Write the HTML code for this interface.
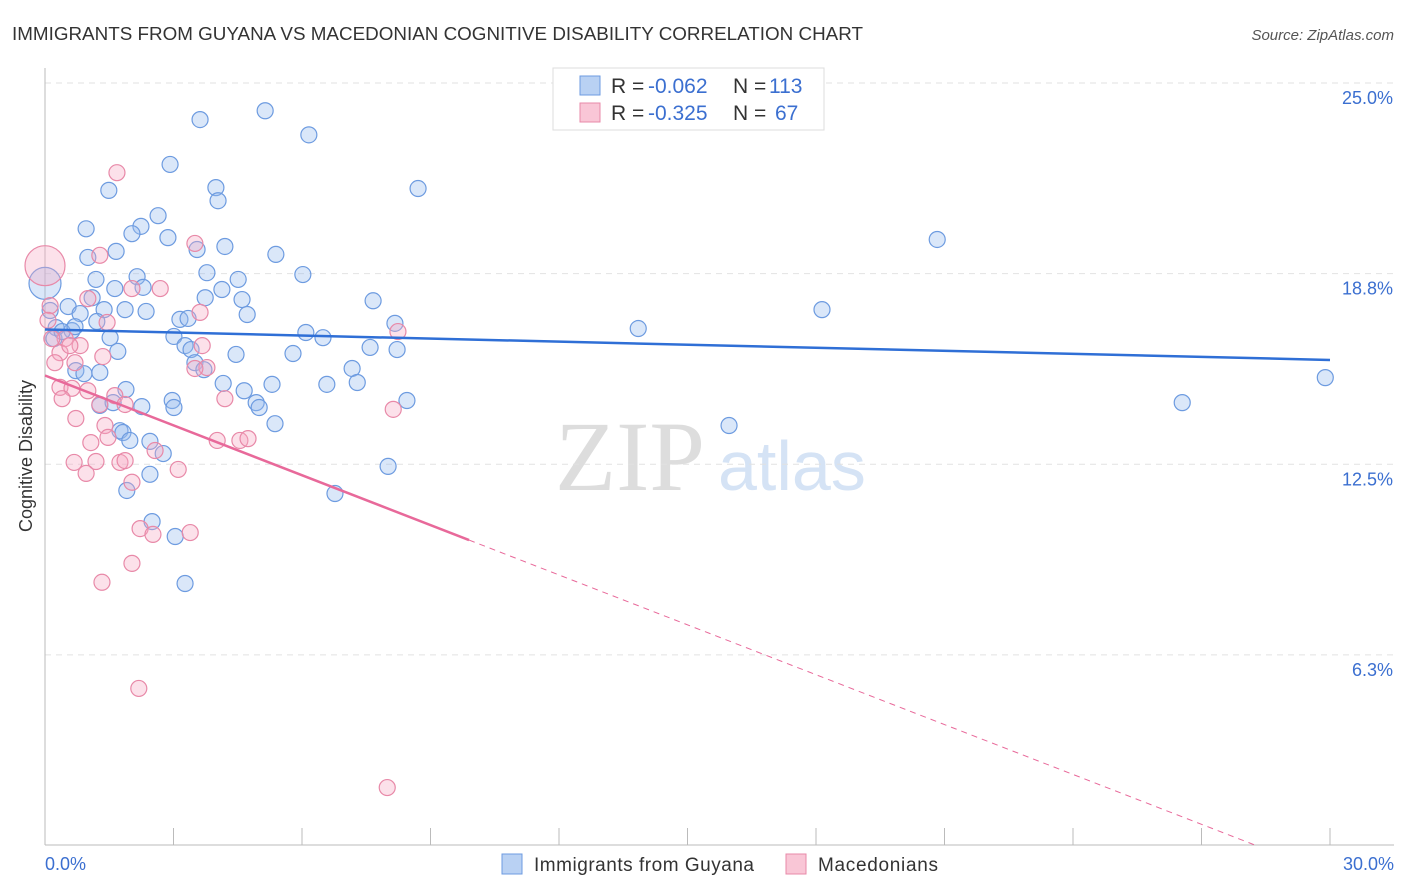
<!DOCTYPE html>
<html><head><meta charset="utf-8"><style>
body{margin:0;background:#fff;font-family:"Liberation Sans",sans-serif;}
svg{display:block}
</style></head><body>
<svg id="chart" width="1406" height="892">
<text x="12" y="40" font-size="18" fill="#333" textLength="851" lengthAdjust="spacingAndGlyphs">IMMIGRANTS FROM GUYANA VS MACEDONIAN COGNITIVE DISABILITY CORRELATION CHART</text>
<text x="1394" y="40" font-size="15" fill="#555" font-style="italic" text-anchor="end">Source: ZipAtlas.com</text>
<text x="32" y="456" font-size="18" fill="#333" text-anchor="middle" transform="rotate(-90 32 456)">Cognitive Disability</text>
<g><text x="555" y="490" font-size="100" fill="#ddd" font-family="Liberation Serif,serif">ZIP</text><text x="718" y="490" font-size="70" fill="#d5e3f5">atlas</text></g>
<g id="grid"></g><g id="axes"></g><g id="pts"></g><g id="trends"></g>
<g>
<rect x="553" y="68" width="271" height="62" fill="#fff" stroke="#ddd"/>
<rect x="580" y="76" width="20" height="19" fill="#b9d1f3" stroke="#6d9be0"/>
<rect x="580" y="103" width="20" height="19" fill="#f9c6d6" stroke="#e889a8"/>
<text x="611" y="93" font-size="21" fill="#333">R = <tspan x="648" fill="#3b6fd0">-0.062</tspan><tspan x="733">N = </tspan><tspan x="769" fill="#3b6fd0">113</tspan></text>
<text x="611" y="120" font-size="21" fill="#333">R = <tspan x="648" fill="#3b6fd0">-0.325</tspan><tspan x="733">N = </tspan><tspan x="775" fill="#3b6fd0">67</tspan></text>
</g>
<g>
<rect x="502" y="854" width="20" height="20" fill="#b9d1f3" stroke="#6d9be0"/>
<text x="534" y="871" font-size="19" fill="#333" textLength="220">Immigrants from Guyana</text>
<rect x="786" y="854" width="20" height="20" fill="#f9c6d6" stroke="#e889a8"/>
<text x="818" y="871" font-size="19" fill="#333" textLength="120">Macedonians</text>
</g>
</svg>
<script>
const yTicks=[6.25,12.5,18.75,25];
const yTickLabels=["6.3%","12.5%","18.8%","25.0%"];
const xTickLabels=["0.0%","30.0%"];
const blueX=[5.14,3.62,6.16,2.92,1.49,3.99,4.04,8.71,2.64,2.24,0.96,2.03,2.87,4.2,3.55,1.66,5.39,1.0,20.83,3.78,6.02,1.19,2.15,4.51,0,1.63,2.29,4.13,1.1,3.74,4.6,7.66,0.54,1.38,1.87,2.36,18.14,4.72,0.82,1.21,3.15,3.34,8.17,0.26,0.63,13.85,6.09,6.49,3.01,0.21,1.52,3.27,3.41,1.7,4.46,5.79,7.59,8.22,3.5,3.71,7.17,0.72,1.28,0.91,29.89,4.16,5.3,6.58,7.29,1.89,4.65,2.97,4.93,8.45,1.28,1.59,2.26,3.01,5.0,26.55,5.37,15.97,1.75,1.82,1.98,2.45,2.76,8.01,2.45,1.91,6.77,2.5,3.04,3.27,0.4,0.7,0.12];
const blueY=[24.09,23.8,23.3,22.33,21.48,21.57,21.14,21.54,20.65,20.3,20.22,20.06,19.93,19.64,19.54,19.48,19.38,19.28,19.87,18.78,18.72,18.56,18.65,18.56,18.43,18.26,18.3,18.23,17.96,17.96,17.9,17.86,17.67,17.57,17.57,17.51,17.57,17.41,17.44,17.18,17.25,17.28,17.12,16.98,16.88,16.95,16.82,16.65,16.69,16.62,16.65,16.39,16.26,16.2,16.1,16.13,16.33,16.26,15.83,15.6,15.64,15.57,15.51,15.47,15.34,15.15,15.12,15.12,15.18,14.95,14.91,14.59,14.52,14.59,14.43,14.52,14.39,14.36,14.36,14.52,13.83,13.77,13.6,13.54,13.28,13.25,12.85,12.43,12.17,11.64,11.54,10.62,10.13,8.59,16.85,17.01,17.54];
const pinkX=[0,1.68,3.5,1.28,2.69,2.03,1.0,3.62,0.12,1.45,8.24,0.47,3.67,0.82,0.35,1.35,0.23,0.7,3.78,3.5,0.35,0.63,1.0,1.63,0.4,1.28,1.87,4.2,8.13,0.72,1.4,1.07,1.47,4.02,4.55,4.74,2.57,0.68,1.19,1.75,1.87,0.96,3.11,2.03,2.22,2.52,3.39,2.03,1.33,2.19,7.99,0.07,0.16,0.58];
const pinkY=[19.01,22.06,19.74,19.35,18.26,18.26,17.93,17.48,17.7,17.15,16.85,16.62,16.39,16.39,16.16,16.03,15.83,15.83,15.67,15.64,15.02,14.99,14.91,14.75,14.65,14.46,14.46,14.65,14.3,14.0,13.77,13.21,13.38,13.28,13.28,13.34,12.95,12.56,12.59,12.56,12.62,12.2,12.33,11.91,10.39,10.2,10.26,9.25,8.63,5.15,1.9,17.22,16.62,16.39];
const blueTrend=[16.92,15.92];
const pinkTrend=[15.41,-0.545];
const NS="http://www.w3.org/2000/svg";
const sx=v=>45+v/30*1285, sy=v=>845.5-v*30.5;
function mk(p,t,a){const e=document.createElementNS(NS,t);for(const k in a)e.setAttribute(k,a[k]);document.getElementById(p).appendChild(e);return e;}
yTicks.forEach((t,i)=>{
 const l=mk('grid','line',{x1:45,x2:1394,y1:sy(t),y2:sy(t),stroke:'#e2e2e2','stroke-dasharray':'6,5'});
 
 
 const tx=mk('grid','text',{x:1393,y:sy(t)+21,'font-size':18,fill:'#3b6fd0','text-anchor':'end'});
 tx.textContent=yTickLabels[i];
 
 
});
const ax=mk('axes','line',{x1:45,x2:45,y1:68,y2:845,stroke:'#bbb'});


const bx=mk('axes','line',{x1:45,x2:1394,y1:845,y2:845,stroke:'#bbb'});


for(let i=0;i<=10;i++){const t=mk('axes','line',{x1:sx(i*3),x2:sx(i*3),y1:828,y2:845,stroke:'#bbb'});
 
 }
[[0,'start',45],[30,'end',1394]].forEach((d,i)=>{const t=mk('axes','text',{x:d[2],y:870,'font-size':18,fill:'#3b6fd0','text-anchor':d[1]});t.textContent=xTickLabels[i];
 
 });
blueX.forEach((x,i)=>{const c=mk('pts','circle',{cx:sx(x),cy:sy(blueY[i]),r:x===0?16:8,fill:'rgba(150,185,238,0.35)',stroke:'#6d9be0','stroke-width':1.2});
 
 });
pinkX.forEach((x,i)=>{const c=mk('pts','circle',{cx:sx(x),cy:sy(pinkY[i]),r:x===0?20:8,fill:'rgba(246,170,196,0.35)',stroke:'#e889a8','stroke-width':1.2});
 
 });
const bt=mk('trends','line',{x1:sx(0),y1:sy(blueTrend[0]),x2:sx(30),y2:sy(blueTrend[1]),stroke:'#2f6fd6','stroke-width':2.5});


const pe=9.9, pz=-pinkTrend[0]/pinkTrend[1];
const pt=mk('trends','line',{x1:sx(0),y1:sy(pinkTrend[0]),x2:sx(pe),y2:sy(pinkTrend[0]+pinkTrend[1]*pe),stroke:'#e8699a','stroke-width':2.5});


const pd=mk('trends','line',{x1:sx(pe),y1:sy(pinkTrend[0]+pinkTrend[1]*pe),x2:sx(pz),y2:sy(0),stroke:'#e8699a','stroke-width':1,'stroke-dasharray':'6,5'});


</script>
</body></html>
